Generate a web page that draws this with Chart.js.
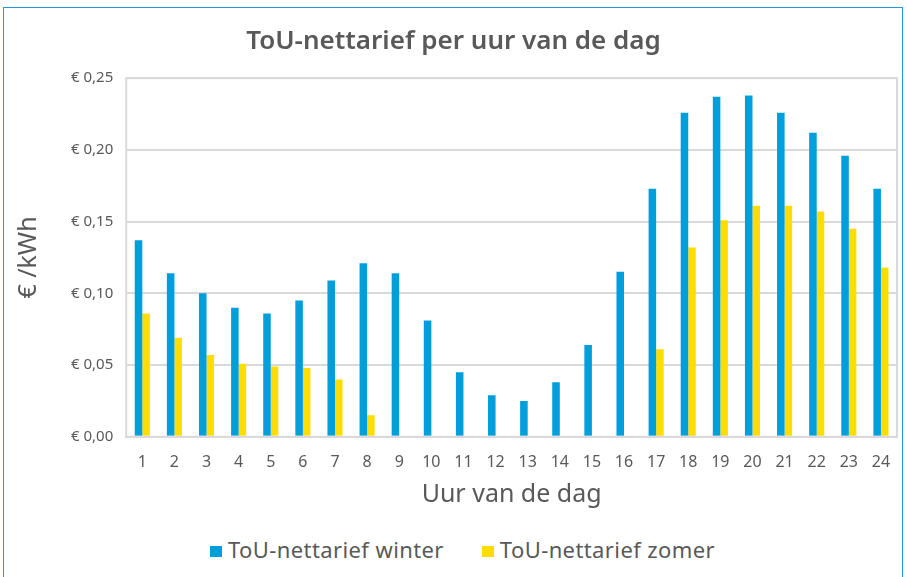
<!DOCTYPE html>
<html>
<head>
<meta charset="utf-8">
<script src="https://cdn.jsdelivr.net/npm/chart.js@4/dist/chart.umd.min.js"></script>
<style>
  html, body { margin: 0; padding: 0; background: #fff; }
  #wrap { position: relative; width: 907px; height: 577px; overflow: hidden; }
  #frame { position: absolute; left: 3px; top: 7px; width: 900px; height: 600px; border: 1px solid #1e9be0; box-sizing: border-box; }
  #box { position: absolute; left: 0; top: 0; width: 907px; height: 514px; }
  #legend { position: absolute; top: 534px; left: 210px; font-family: "Noto Sans", sans-serif; font-size: 22px; letter-spacing: 0.4px; color: #595959; white-space: nowrap; line-height: 30px; }
  #legend span.item { display: inline-block; margin-right: 38px; }
  #legend i { display: inline-block; width: 12px; height: 11px; margin-right: 6px; vertical-align: 1px; }
</style>
</head>
<body>
<div id="wrap">
  <div id="frame"></div>
  <div id="box"><canvas id="tou-chart"></canvas></div>
  <div id="legend"></div>
</div>
<script>
// hours of the day
const hours = ['1','2','3','4','5','6','7','8','9','10','11','12','13','14','15','16','17','18','19','20','21','22','23','24'];

// euro per kWh
const winterValues = [0.137, 0.114, 0.100, 0.090, 0.086, 0.095, 0.109, 0.121, 0.114, 0.081, 0.045, 0.029,
                      0.025, 0.038, 0.064, 0.115, 0.173, 0.226, 0.237, 0.238, 0.226, 0.212, 0.196, 0.173];
const zomerValues  = [0.086, 0.069, 0.057, 0.051, 0.049, 0.048, 0.040, 0.015, 0, 0, 0, 0,
                      0, 0, 0, 0, 0.061, 0.132, 0.151, 0.161, 0.161, 0.157, 0.145, 0.118];

const seriesNames = ['ToU-nettarief winter', 'ToU-nettarief zomer'];
const seriesColors = ['#009fdb', '#ffdd00'];

const yTicks = [0, 0.05, 0.10, 0.15, 0.20, 0.25];

const textGray = '#595959';
const fontName = '"Noto Sans", sans-serif';

// plot area border like the original
const plotBorder = {
    id: 'plotBorder',
    afterDraw(chart) {
        const a = chart.chartArea;
        const ctx = chart.ctx;
        ctx.save();
        ctx.strokeStyle = '#d9d9d9';
        ctx.lineWidth = 2;
        ctx.strokeRect(a.left, a.top, a.right - a.left, a.bottom - a.top);
        ctx.restore();
    }
};

var ctx = document.getElementById('tou-chart').getContext('2d');

var touChart = new Chart(ctx, {
    type: 'bar',
    data: {
        labels: hours,
        datasets: [
            { label: seriesNames[0], data: winterValues, backgroundColor: seriesColors[0] },
            { label: seriesNames[1], data: zomerValues, backgroundColor: seriesColors[1] }
        ]
    },
    options: {
        responsive: true,
        maintainAspectRatio: false,
        animation: false,
        datasets: {
            bar: { barPercentage: 1, categoryPercentage: 0.47 }
        },
        layout: { padding: { top: 26, left: 10, right: 10, bottom: 0 } },
        plugins: {
            legend: { display: false },
            tooltip: { enabled: false },
            title: {
                display: true,
                text: 'ToU-nettarief per uur van de dag',
                color: textGray,
                font: { family: fontName, size: 26, weight: '600' },
                padding: { top: 0, bottom: 21 }
            }
        },
        scales: {
            x: {
                grid: { display: false },
                border: { color: '#d9d9d9', width: 2 },
                ticks: { color: textGray, font: { family: fontName, size: 16 }, padding: 8 },
                title: {
                    display: true,
                    text: 'Uur van de dag',
                    color: textGray,
                    font: { family: fontName, size: 25 },
                    padding: { top: 0 }
                }
            },
            y: {
                min: 0,
                max: 0.25,
                afterBuildTicks(axis) {
                    axis.ticks = yTicks.map(v => ({ value: v }));
                },
                grid: { color: '#d9d9d9', lineWidth: 2, drawTicks: false },
                border: { display: false },
                ticks: {
                    color: textGray,
                    font: { family: fontName, size: 15 },
                    padding: 13,
                    callback: v => '€ ' + v.toFixed(2).replace('.', ',')
                },
                title: {
                    display: true,
                    text: '€ /kWh',
                    color: textGray,
                    font: { family: fontName, size: 25 },
                    padding: { bottom: 14 }
                }
            }
        }
    },
    plugins: [plotBorder]
});

// legend below the chart
const legendEl = document.getElementById('legend');
seriesNames.forEach((name, i) => {
    const item = document.createElement('span');
    item.className = 'item';
    const sw = document.createElement('i');
    sw.style.background = seriesColors[i];
    item.appendChild(sw);
    item.appendChild(document.createTextNode(name));
    legendEl.appendChild(item);
});
</script>
</body>
</html>
